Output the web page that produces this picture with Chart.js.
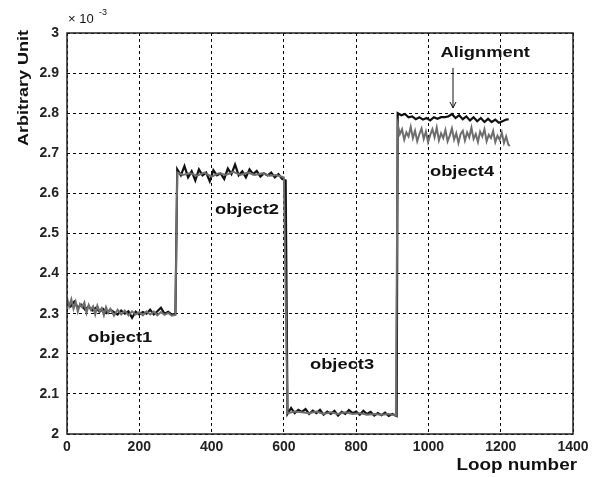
<!DOCTYPE html>
<html>
<head>
<meta charset="utf-8">
<script src="https://cdn.jsdelivr.net/npm/chart.js@4"></script>
<style>
  html, body { margin: 0; padding: 0; background: #fff; }
  #wrap { width: 599px; height: 477px; }
</style>
</head>
<body>
<div id="wrap"><canvas id="chart"></canvas></div>
<script>
// loop numbers and values (x 10^-3)
const blackLoops = [0,10,20,30,40,50,60,70,80,90,100,110,120,130,140,150,160,170,180,190,200,210,220,230,240,250,260,270,280,290,300,
  305,315,325,335,345,355,365,375,385,395,405,415,425,435,445,455,465,475,485,495,505,515,525,535,545,555,565,575,585,595,605,
  610,620,630,640,650,660,670,680,690,700,710,720,730,740,750,760,770,780,790,800,810,820,830,840,850,860,870,880,890,900,912,
  915,925,935,945,955,965,975,985,995,1005,1015,1025,1035,1045,1055,1065,1075,1085,1095,1105,1115,1125,1135,1145,1155,1165,1175,1185,1195,1205,1215,1222];
const blackValues = [2.325,2.318,2.33,2.315,2.322,2.31,2.318,2.308,2.315,2.305,2.312,2.302,2.31,2.304,2.298,2.308,2.30,2.306,2.29,2.305,2.298,2.304,2.30,2.31,2.298,2.306,2.315,2.30,2.305,2.298,2.30,
  2.66,2.645,2.668,2.64,2.655,2.632,2.66,2.645,2.652,2.63,2.658,2.645,2.65,2.636,2.662,2.648,2.672,2.645,2.655,2.64,2.66,2.648,2.656,2.642,2.65,2.645,2.652,2.64,2.648,2.636,2.632,
  2.05,2.065,2.052,2.06,2.055,2.062,2.05,2.058,2.052,2.06,2.048,2.056,2.05,2.058,2.046,2.055,2.05,2.06,2.052,2.056,2.048,2.058,2.05,2.055,2.046,2.052,2.047,2.053,2.045,2.05,2.045,
  2.80,2.795,2.798,2.79,2.792,2.785,2.79,2.784,2.788,2.782,2.79,2.786,2.79,2.79,2.792,2.798,2.788,2.795,2.785,2.792,2.782,2.79,2.78,2.788,2.778,2.786,2.778,2.784,2.776,2.78,2.784,2.785];

const grayLoops = [0,6,12,18,24,30,36,42,48,54,60,66,72,78,84,90,96,102,108,114,120,130,140,150,160,170,180,190,200,210,220,230,240,250,260,270,280,290,300,
  305,320,340,360,380,400,420,440,460,480,500,520,540,560,580,600,
  610,630,650,670,690,710,730,750,770,790,810,830,850,870,890,910,
  915,921,927,933,939,945,951,957,963,969,975,981,987,993,999,1005,1011,1017,1023,1029,1035,1041,1047,1053,1059,1065,1071,1077,1083,1089,1095,
  1101,1107,1113,1119,1125,1131,1137,1143,1149,1155,1161,1167,1173,1179,1185,1191,1197,1203,1209,1215,1221,1225];
const grayValues = [2.34,2.318,2.336,2.312,2.33,2.305,2.324,2.316,2.328,2.302,2.322,2.31,2.318,2.298,2.32,2.306,2.314,2.296,2.316,2.302,2.312,2.295,2.31,2.298,2.308,2.296,2.306,2.298,2.304,2.296,2.306,2.298,2.305,2.296,2.304,2.297,2.302,2.295,2.297,
  2.652,2.646,2.65,2.644,2.652,2.642,2.65,2.646,2.654,2.646,2.652,2.646,2.65,2.644,2.646,2.64,
  2.052,2.056,2.054,2.052,2.056,2.05,2.054,2.05,2.054,2.05,2.052,2.048,2.05,2.048,2.05,2.046,
  2.772,2.748,2.76,2.734,2.752,2.742,2.766,2.738,2.756,2.73,2.748,2.762,2.736,2.754,2.728,2.746,2.76,2.74,2.764,2.732,2.75,2.738,2.758,2.73,2.744,2.762,2.734,2.75,2.726,2.748,2.756,
  2.732,2.752,2.74,2.764,2.736,2.748,2.728,2.754,2.742,2.76,2.73,2.746,2.738,2.756,2.728,2.744,2.734,2.752,2.726,2.742,2.722,2.718];

const xTicks = [0,200,400,600,800,1000,1200,1400];
const yTicks = [2,2.1,2.2,2.3,2.4,2.5,2.6,2.7,2.8,2.9,3];

const labels = [
  { text: 'object1', x: 147, y: 2.239 },
  { text: 'object2', x: 498, y: 2.559 },
  { text: 'object3', x: 761, y: 2.172 },
  { text: 'object4', x: 1093, y: 2.653 },
  { text: 'Alignment', x: 1157, y: 2.95 }
];

const pts = (xs, ys) => xs.map((x, i) => ({ x: x, y: ys[i] }));
const FAM = '"Liberation Sans", Arial, sans-serif';

// the original picture was stretched sideways, so text is drawn a bit wide
function wideText(ctx, text, x, y, sx) {
  ctx.save();
  ctx.translate(x, y);
  ctx.scale(sx, 1);
  ctx.fillText(text, 0, 0);
  ctx.restore();
}

const decor = {
  id: 'decor',
  afterDraw(chart) {
    const ctx = chart.ctx;
    const a = chart.chartArea;
    const xs = chart.scales.x, ys = chart.scales.y;
    ctx.save();
    // box
    ctx.strokeStyle = '#222';
    ctx.lineWidth = 1.5;
    ctx.strokeRect(a.left, a.top, a.right - a.left, a.bottom - a.top);

    ctx.fillStyle = '#111';
    ctx.textAlign = 'center';
    ctx.textBaseline = 'middle';
    ctx.font = 'bold 15px ' + FAM;
    labels.forEach(l => {
      wideText(ctx, l.text, xs.getPixelForValue(l.x), ys.getPixelForValue(l.y), 1.22);
    });

    // arrow under "Alignment"
    const ax = xs.getPixelForValue(1068);
    const ay1 = ys.getPixelForValue(2.913), ay2 = ys.getPixelForValue(2.813);
    ctx.strokeStyle = '#111';
    ctx.lineWidth = 1;
    ctx.beginPath();
    ctx.moveTo(ax, ay1);
    ctx.lineTo(ax, ay2);
    ctx.moveTo(ax - 3, ay2 - 6);
    ctx.lineTo(ax, ay2);
    ctx.lineTo(ax + 3, ay2 - 6);
    ctx.stroke();

    // exponent
    ctx.textAlign = 'left';
    ctx.font = '13px ' + FAM;
    ctx.fillText('\u00d7 10', a.left + 1, 19);
    ctx.font = '9px ' + FAM;
    ctx.fillText('-3', a.left + 32, 13);

    // axis titles
    ctx.font = 'bold 16px ' + FAM;
    ctx.textAlign = 'right';
    wideText(ctx, 'Loop number', 577, 466, 1.18);
    ctx.translate(24, 88);
    ctx.rotate(-Math.PI / 2);
    ctx.textAlign = 'center';
    ctx.font = 'bold 15px ' + FAM;
    wideText(ctx, 'Arbitrary Unit', 0, 0, 1.2);
    ctx.restore();
  }
};

const tickFont = { family: FAM, size: 14, weight: 'bold' };

new Chart(document.getElementById('chart'), {
  type: 'line',
  data: {
    datasets: [
      {
        label: 'gray',
        data: pts(grayLoops, grayValues),
        borderColor: '#6e6e6e',
        borderWidth: 2,
        pointRadius: 0,
        tension: 0
      },
      {
        label: 'black',
        data: pts(blackLoops, blackValues),
        borderColor: '#111',
        borderWidth: 2.2,
        pointRadius: 0,
        tension: 0
      }
    ]
  },
  options: {
    responsive: true,
    maintainAspectRatio: false,
    animation: false,
    layout: { padding: { top: 33, right: 26, left: 0, bottom: 0 } },
    plugins: { legend: { display: false }, tooltip: { enabled: false } },
    scales: {
      x: {
        type: 'linear',
        min: 0, max: 1400,
        afterBuildTicks: s => { s.ticks = xTicks.map(v => ({ value: v })); },
        afterFit: s => { s.height = 43; },
        grid: { color: '#000', lineWidth: 1, drawTicks: false },
        border: { display: false, dash: [3, 3] },
        ticks: { color: '#222', font: tickFont, padding: 5, maxRotation: 0, callback: v => String(v) }
      },
      y: {
        min: 2, max: 3,
        afterBuildTicks: s => { s.ticks = yTicks.map(v => ({ value: v })); },
        afterFit: s => { s.width = 67; },
        grid: { color: '#000', lineWidth: 1, drawTicks: false },
        border: { display: false, dash: [3, 3] },
        ticks: { color: '#222', font: tickFont, padding: 8,
          callback: v => String(Math.round(v * 10) / 10) }
      }
    }
  },
  plugins: [decor]
});
</script>
</body>
</html>
